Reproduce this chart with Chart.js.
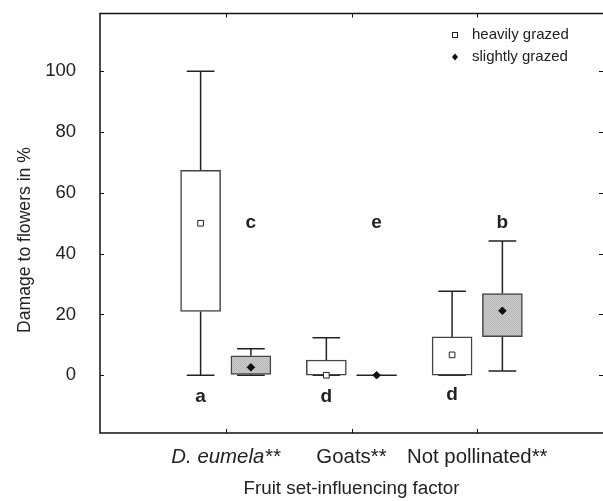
<!DOCTYPE html>
<html>
<head>
<meta charset="utf-8">
<script src="https://cdn.jsdelivr.net/npm/chart.js@4/dist/chart.umd.min.js"></script>
<style>
	html, body { margin: 0; padding: 0; background: #fff; }
	#chart { display: block; }
</style>
</head>
<body>
<canvas id="chart" width="603" height="501"></canvas>
<script>
// values (damage to flowers, %)
const categories = ["D. eumela**", "Goats**", "Not pollinated**"];
const yTicks = [0, 20, 40, 60, 80, 100];

const heavyMin = [0, 0, 0];
const heavyQ1 = [21, 0, 0];
const heavyQ3 = [67.4, 5, 12.6];
const heavyMax = [100, 12.3, 27.6];
const heavyMid = [50, 0, 6.7];

const slightMin = [0, 0, 1.4];
const slightQ1 = [0.3, 0, 12.7];
const slightQ3 = [6.4, 0, 26.9];
const slightMax = [8.7, 0, 44.2];
const slightMid = [2.6, 0, 21.2];

const heavyLetters = ["a", "d", "d"];
const heavyLetterY = [-7, -7, -6.3];
const slightLetters = ["c", "e", "b"];
const slightLetterY = [50, 50, 50];

const FONT = "'Liberation Sans', Arial, sans-serif";
const INK = "#222";

const catX = categories.map((c, i) => i + 1);
const heavyX = catX.map((x) => x - 0.2);
const slightX = catX.map((x) => x + 0.2);
const capHalf = 0.11;
const boxHalf = 0.16;

const boxData = (xs, q1, q3) =>
	xs.map((x, i) => ({ x: x, y: [q1[i], q3[i]] })).filter((d) => d.y[0] !== d.y[1]);

const whiskerData = (xs, lo, q1, q3, hi) => {
	const pts = [];
	xs.forEach((x, i) => {
		if (q1[i] === q3[i] && lo[i] === hi[i]) {
			pts.push({ x: x - boxHalf, y: q1[i] }, { x: x + boxHalf, y: q1[i] }, { x: x, y: null });
			return;
		}
		pts.push({ x: x, y: q3[i] }, { x: x, y: hi[i] }, { x: x, y: null });
		pts.push({ x: x - capHalf, y: hi[i] }, { x: x + capHalf, y: hi[i] }, { x: x, y: null });
		pts.push({ x: x, y: q1[i] }, { x: x, y: lo[i] }, { x: x, y: null });
		pts.push({ x: x - capHalf, y: lo[i] }, { x: x + capHalf, y: lo[i] }, { x: x, y: null });
	});
	return pts;
};

const points = (xs, ys) => xs.map((x, i) => ({ x: x, y: ys[i] }));

// light grey stipple for the slightly grazed boxes
const greyFill = (() => {
	const c = document.createElement("canvas");
	c.width = 2;
	c.height = 2;
	const g = c.getContext("2d");
	g.fillStyle = "#cbcbcb";
	g.fillRect(0, 0, 2, 2);
	g.fillStyle = "#b9b9b9";
	g.fillRect(0, 0, 1, 1);
	g.fillRect(1, 1, 1, 1);
	return g.createPattern(c, "repeat");
})();

const framePlugin = {
	id: "frame",
	afterDraw(chart) {
		const { ctx, chartArea: a, scales } = chart;
		ctx.save();
		ctx.strokeStyle = "#111";
		ctx.lineWidth = 1.5;
		ctx.beginPath();
		ctx.moveTo(a.right, a.top);
		ctx.lineTo(a.left, a.top);
		ctx.lineTo(a.left, a.bottom);
		ctx.lineTo(a.right, a.bottom);
		ctx.stroke();
		ctx.lineWidth = 1;
		ctx.beginPath();
		yTicks.forEach((v) => {
			const y = Math.round(scales.y.getPixelForValue(v)) + 0.5;
			ctx.moveTo(a.left, y);
			ctx.lineTo(a.left + 4, y);
			ctx.moveTo(a.right, y);
			ctx.lineTo(a.right - 4, y);
		});
		catX.forEach((v) => {
			const x = Math.round(scales.x.getPixelForValue(v)) + 0.5;
			ctx.moveTo(x, a.top);
			ctx.lineTo(x, a.top + 4);
			ctx.moveTo(x, a.bottom);
			ctx.lineTo(x, a.bottom - 4);
		});
		ctx.stroke();

		// significance letters
		ctx.fillStyle = INK;
		ctx.font = "bold 19px " + FONT;
		ctx.textAlign = "center";
		ctx.textBaseline = "middle";
		heavyX.forEach((x, i) => {
			ctx.fillText(heavyLetters[i], scales.x.getPixelForValue(x), scales.y.getPixelForValue(heavyLetterY[i]));
		});
		slightX.forEach((x, i) => {
			ctx.fillText(slightLetters[i], scales.x.getPixelForValue(x), scales.y.getPixelForValue(slightLetterY[i]));
		});

		// legend in the top right corner
		const lx = a.right - 148;
		const rows = [a.top + 21.5, a.top + 43.5];
		ctx.lineWidth = 1;
		ctx.fillStyle = "#fff";
		ctx.strokeStyle = INK;
		ctx.fillRect(lx - 2.5, rows[0] - 2.5, 5, 5);
		ctx.strokeRect(lx - 2.5, rows[0] - 2.5, 5, 5);
		ctx.fillStyle = "#111";
		ctx.beginPath();
		ctx.moveTo(lx, rows[1] - 3.5);
		ctx.lineTo(lx + 3, rows[1]);
		ctx.lineTo(lx, rows[1] + 3.5);
		ctx.lineTo(lx - 3, rows[1]);
		ctx.closePath();
		ctx.fill();
		ctx.fillStyle = INK;
		ctx.font = "15px " + FONT;
		ctx.textAlign = "left";
		ctx.fillText(chart.data.datasets[4].label, lx + 17, rows[0]);
		ctx.fillText(chart.data.datasets[5].label, lx + 17, rows[1]);

		// y axis title
		ctx.font = "17.6px " + FONT;
		ctx.textAlign = "center";
		ctx.translate(25, 240);
		ctx.rotate(-Math.PI / 2);
		ctx.fillText("Damage to flowers in %", 0, 0);
		ctx.restore();
	},
};

new Chart(document.getElementById("chart"), {
	type: "scatter",
	data: {
		datasets: [
			{
				type: "bar",
				label: "heavy box",
				data: boxData(heavyX, heavyQ1, heavyQ3),
				backgroundColor: "#fff",
				borderColor: "#444",
				borderWidth: 1.5,
				borderSkipped: false,
				barThickness: 40,
				grouped: false,
				order: 3,
			},
			{
				type: "bar",
				label: "slight box",
				data: boxData(slightX, slightQ1, slightQ3),
				backgroundColor: greyFill,
				borderColor: "#444",
				borderWidth: 1.5,
				borderSkipped: false,
				barThickness: 40,
				grouped: false,
				order: 3,
			},
			{
				type: "line",
				label: "heavy whiskers",
				data: whiskerData(heavyX, heavyMin, heavyQ1, heavyQ3, heavyMax),
				borderColor: INK,
				borderWidth: 1.5,
				pointRadius: 0,
				spanGaps: false,
				order: 4,
			},
			{
				type: "line",
				label: "slight whiskers",
				data: whiskerData(slightX, slightMin, slightQ1, slightQ3, slightMax),
				borderColor: INK,
				borderWidth: 1.5,
				pointRadius: 0,
				spanGaps: false,
				order: 4,
			},
			{
				label: "heavily grazed",
				data: points(heavyX, heavyMid),
				pointStyle: "rect",
				pointRadius: 4,
				backgroundColor: "#fff",
				borderColor: INK,
				borderWidth: 1,
				order: 1,
			},
			{
				label: "slightly grazed",
				data: points(slightX, slightMid),
				pointStyle: "rectRot",
				pointRadius: 3.8,
				backgroundColor: "#111",
				borderColor: "#111",
				borderWidth: 1,
				order: 1,
			},
		],
	},
	options: {
		responsive: false,
		animation: false,
		layout: { autoPadding: false, padding: { top: 13.5, right: 0, bottom: 0, left: 0 } },
		plugins: {
			legend: { display: false },
			tooltip: { enabled: false },
		},
		scales: {
			x: {
				type: "linear",
				min: 0,
				max: 4,
				offset: false,
				afterBuildTicks: (scale) => {
					scale.ticks = catX.map((v) => ({ value: v }));
				},
				afterFit: (scale) => {
					scale.height = 68;
					scale.paddingLeft = 0;
					scale.paddingRight = 0;
				},
				grid: { display: false },
				border: { display: false },
				ticks: {
					padding: 4,
					color: INK,
					autoSkip: false,
					maxRotation: 0,
					font: (ctx) => ({
						family: FONT,
						size: 20.4,
						style: ctx.tick && ctx.tick.value === 1 ? "italic" : "normal",
					}),
					callback: (v) => categories[v - 1] || "",
				},
				title: {
					display: true,
					text: "Fruit set-influencing factor",
					color: INK,
					font: { family: FONT, size: 18.8 },
					padding: { top: 0, bottom: 1 },
				},
			},
			y: {
				min: -19,
				max: 119,
				afterBuildTicks: (scale) => {
					scale.ticks = yTicks.map((v) => ({ value: v }));
				},
				afterFit: (scale) => {
					scale.width = 100;
					scale.paddingTop = 0;
					scale.paddingBottom = 0;
				},
				grid: { display: false },
				border: { display: false },
				ticks: {
					padding: 16,
					color: INK,
					font: { family: FONT, size: 18.5 },
				},
			},
		},
	},
	plugins: [framePlugin],
});
</script>
</body>
</html>
